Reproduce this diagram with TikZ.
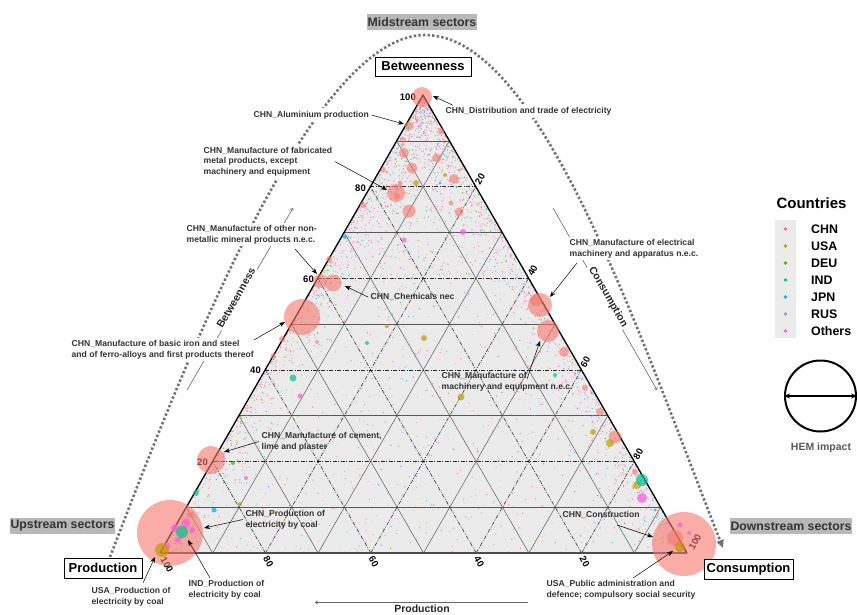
\documentclass[tikz,border=0pt]{standalone}
\usepackage{fontspec}
\setmainfont{Liberation Sans}
\usetikzlibrary{arrows.meta}
\definecolor{chn}{HTML}{F8766D}
\definecolor{usa}{HTML}{C49A00}
\definecolor{deu}{HTML}{53B400}
\definecolor{ind}{HTML}{00C094}
\definecolor{jpn}{HTML}{00B6EB}
\definecolor{rus}{HTML}{A58AFF}
\definecolor{oth}{HTML}{FB61D7}
\definecolor{tribg}{HTML}{EBEBEB}
\newcommand\lblfont{\bfseries\fontsize{8.6}{10.6}\selectfont}
\begin{document}
\begin{tikzpicture}[x=1pt,y=-1pt,
  lbl/.style={font=\lblfont, text=black!80, align=left, inner sep=2.5pt, anchor=west},
  lblw/.style={lbl, fill=white},
  ptr/.style={-{Stealth[length=6pt,width=4.5pt]}, black, line width=0.5pt},
  ticklbl/.style={font=\bfseries\fontsize{9.5}{10}\selectfont, inner sep=0pt},
  cornerbox/.style={draw=black, line width=0.9pt, fill=white, font=\bfseries\fontsize{13}{14}\selectfont, inner sep=0pt},
  sector/.style={fill=black!28, text=black!80, font=\bfseries\fontsize{12.3}{13}\selectfont, inner sep=0pt, minimum height=16pt},
  axttl/.style={font=\bfseries\fontsize{10.5}{11}\selectfont, text=black!85, inner sep=1.5pt},
  axarr/.style={draw=black!60, line width=0.6pt, -{To[length=3pt,width=4pt]}},
  gridsolid/.style={draw=black!65, line width=0.5pt},
  griddash/.style={draw=black!85, line width=0.55pt, dash pattern=on 4pt off 1.5pt on 1pt off 1.5pt},
  arcdots/.style={draw=black!55, line width=2.6pt, dash pattern=on 2.4pt off 2.2pt, -{Triangle[length=8pt,width=7pt]}},
  bubchn/.style={fill=chn, fill opacity=0.6},
]
\useasboundingbox (0,0) rectangle (857,614);
\fill[white] (0,0) rectangle (857,614);

% triangle
\coordinate (A) at (160,553);
\coordinate (B) at (687,553);
\coordinate (C) at (423,95);
\fill[tribg] (A) -- (B) -- (C) -- cycle;

% grid (b = betweenness, c = consumption, p = production)
\foreach \k in {10,30,50,70,90}{
  \pgfmathsetmacro\f{\k/100}
  \draw[gridsolid] ({160+263*\f},{553-458*\f}) -- ({687-264*\f},{553-458*\f});
  \draw[gridsolid] ({160+527*\f},553) -- ({423+264*\f},{95+458*\f});
  \draw[gridsolid] ({687-527*\f},553) -- ({423-263*\f},{95+458*\f});
}
\foreach \k in {20,40,60,80}{
  \pgfmathsetmacro\f{\k/100}
  \draw[griddash] ({160+263*\f},{553-458*\f}) -- ({687-264*\f},{553-458*\f});
  \draw[griddash] ({160+527*\f},553) -- ({423+264*\f},{95+458*\f});
  \draw[griddash] ({687-527*\f},553) -- ({423-263*\f},{95+458*\f});
}

% scatter of small points
\pgfmathsetseed{4711}
\pgfmathdeclarerandomlist{dotcols}{{oth}{oth}{oth}{oth}{oth}{oth}{chn}{chn}{chn}{usa}{jpn}{rus}{ind}{deu}}
\foreach \i in {1,...,900}{
  \pgfmathsetmacro\u{rnd}
  \pgfmathsetmacro\v{rnd}
  \pgfmathsetmacro\bb{(\u+\v>1)?(1-\u):\u}
  \pgfmathsetmacro\cc{(\u+\v>1)?(1-\v):\v}
  \pgfmathsetmacro\rr{0.35+0.45*rnd}
  \pgfmathrandomitem{\dcol}{dotcols}
  \fill[\dcol, fill opacity=0.75] ({160+263*\bb+527*\cc},{553-458*\bb}) circle[radius=\rr pt];
}
\foreach \i in {1,...,800}{
  \pgfmathsetmacro\cc{0.09*rnd*rnd}
  \pgfmathsetmacro\bb{rnd*(1-\cc)}
  \pgfmathsetmacro\rr{0.35+0.45*rnd}
  \pgfmathrandomitem{\dcol}{dotcols}
  \fill[\dcol, fill opacity=0.75] ({160+263*\bb+527*\cc},{553-458*\bb}) circle[radius=\rr pt];
}
\foreach \i in {1,...,800}{
  \pgfmathsetmacro\pp{0.09*rnd*rnd}
  \pgfmathsetmacro\bb{rnd*(1-\pp)}
  \pgfmathsetmacro\cc{1-\bb-\pp}
  \pgfmathsetmacro\rr{0.35+0.45*rnd}
  \pgfmathrandomitem{\dcol}{dotcols}
  \fill[\dcol, fill opacity=0.75] ({160+263*\bb+527*\cc},{553-458*\bb}) circle[radius=\rr pt];
}
\foreach \i in {1,...,600}{
  \pgfmathsetmacro\bb{1-0.4*rnd}
  \pgfmathsetmacro\cc{rnd*(1-\bb)}
  \pgfmathsetmacro\rr{0.35+0.45*rnd}
  \pgfmathrandomitem{\dcol}{dotcols}
  \fill[\dcol, fill opacity=0.75] ({160+263*\bb+527*\cc},{553-458*\bb}) circle[radius=\rr pt];
}

% triangle border
\draw[black!70, line width=1.3pt] (A) -- (B);
\draw[black, line width=1.3pt, line join=round] (A) -- (C) -- (B);

% tick labels
\node[ticklbl, anchor=east] (tb100) at (416,97) {100};
\node[ticklbl, anchor=east] (tb80) at (366,188) {80};
\node[ticklbl, anchor=east] (tb60) at (314,279) {60};
\node[ticklbl, anchor=east] (tb40) at (261,370) {40};
\node[ticklbl, anchor=east] (tb20) at (208,462) {20};
\node[ticklbl, rotate=60] (tc20) at (480,179) {20};
\node[ticklbl, rotate=60] (tc40) at (532.6,270.7) {40};
\node[ticklbl, rotate=60] (tc60) at (585.4,362.3) {60};
\node[ticklbl, rotate=60] (tc80) at (638.2,453.9) {80};
\node[ticklbl, rotate=60] (tc100) at (695,542) {100};
\node[ticklbl, rotate=-60] (tp100) at (167,565) {100};
\node[ticklbl, rotate=-60] (tp80) at (268.4,561.5) {80};
\node[ticklbl, rotate=-60] (tp60) at (373.8,561.5) {60};
\node[ticklbl, rotate=-60] (tp40) at (479.2,561.5) {40};
\node[ticklbl, rotate=-60] (tp20) at (584.6,561.5) {20};

% bubbles: CHN
\foreach \bx/\by/\br in {422/97/10, 409/126/4.5, 404/153/5, 412/168/5.5, 437/158/4.5,
  454/179/5, 396/193/9, 397/196/3, 409/211/6.5, 403/140/3, 400/183/2.5, 363/205/3,
  329/259/3, 320/281/7, 333/283/8.5, 302/317/18, 317/342/2, 282/339/3, 273/356/2.5,
  459/212/4.5, 540/305/12, 536/300/6, 548/331/11, 564/352/5, 211/460/14, 170/533/33,
  191/515/3.5, 684/544/32, 675/538/8, 600/412/4, 615/437/6.5, 635/472/3, 441/131/3,
  383/170/2.5, 451/203/2.5, 585/388/3}
  \fill[bubchn] (\bx,\by) circle[radius=\br pt];
% bubbles: other countries
\foreach \bx/\by/\br in {463/232/3, 300/396/2.5, 642/498/5, 175/528/4, 186/523/4.5,
  178/540/3, 167/546/3.5, 192/530/3, 689/533/2, 246/478/2, 404/240/2.5, 680/525/2.5}
  \fill[oth, fill opacity=0.75] (\bx,\by) circle[radius=\br pt];
\foreach \bx/\by/\br in {416/183/3, 445/175/2, 424/338/3, 387/326/2, 461/397/3.5,
  240/504/2, 593/432/3, 610/443/4, 637/485/4, 680/547/5, 162/550/7}
  \fill[usa, fill opacity=0.7] (\bx,\by) circle[radius=\br pt];
\foreach \bx/\by/\br in {293/378/3.5, 367/343/2, 182/532/6, 642/480/6, 196/493/3, 555/375/2}
  \fill[ind, fill opacity=0.7] (\bx,\by) circle[radius=\br pt];
\foreach \bx/\by/\br in {214/510/2.5, 345/237/2, 655/510/1.5, 440/183/1.5}
  \fill[jpn, fill opacity=0.75] (\bx,\by) circle[radius=\br pt];
\fill[deu, fill opacity=0.75] (233,463) circle[radius=2pt];

% dotted arc
\coordinate (arcL) at (110,557);
\coordinate (arcT) at (425,35);
\coordinate (arcR) at (723,548);
\draw[arcdots] (arcL) .. controls (180,375) and (310,35) .. (arcT)
  .. controls (540,35) and (638,332) .. (arcR);

% axis arrows and titles
\coordinate (btA) at (187,390);
\coordinate (btB) at (293,208);
\draw[axarr] (btA) -- (btB);
\node[axttl, rotate=60, fill=white] (btT) at (236,298) {Betweenness};
\coordinate (csA) at (553,208);
\coordinate (csB) at (657,390);
\draw[axarr] (csA) -- (csB);
\node[axttl, rotate=-60, fill=white] (csT) at (608,297) {Consumption};
\coordinate (prA) at (528,602.5);
\coordinate (prB) at (315,602.5);
\draw[axarr] (prA) -- (prB);
\node[axttl, inner sep=0pt] (prT) at (422,609) {Production};

% labels and pointers
\node[lblw] (lAl) at (251,115) {CHN\_Aluminium production};
\coordinate (tAl) at (404,124);
\draw[ptr] (lAl.east) -- (tAl);

\node[lblw] (lDist) at (443,111) {CHN\_Distribution and trade of electricity};
\coordinate (tDist) at (433,96);
\draw[ptr] ([xshift=10pt,yshift=-1pt]lDist.north west) -- (tDist);

\node[lblw] (lFab) at (201,161.5) {CHN\_Manufacture of fabricated\\metal products, except\\machinery and equipment};
\coordinate (tFab) at (387,190);
\draw[ptr] (lFab.east) -- (tFab);

\node[lblw] (lNon) at (184,234.5) {CHN\_Manufacture of other non-\\metallic mineral products n.e.c.};
\coordinate (sNon) at (295,249);
\coordinate (tNon) at (317,274);
\draw[ptr] (sNon) -- (tNon);

\node[lbl] (lChem) at (368,297) {CHN\_Chemicals nec};
\coordinate (tChem) at (345,286);
\draw[ptr] (lChem.west) -- (tChem);

\node[lblw] (lIron) at (69,349.5) {CHN\_Manufacture of basic iron and steel\\and of ferro-alloys and first products thereof};
\coordinate (sIron) at (254,340);
\coordinate (tIron) at (285,322);
\draw[ptr] (sIron) -- (tIron);

\node[lblw] (lElec) at (567,248.5) {CHN\_Manufacture of electrical\\machinery and apparatus n.e.c.};
\coordinate (sElec) at (577,263);
\coordinate (tElec) at (550,297);
\draw[ptr] (sElec) -- (tElec);

\node[lbl] (lMach) at (439,381.5) {CHN\_Manufacture of\\machinery and equipment n.e.c.};
\coordinate (sMach) at (527,379);
\coordinate (tMach) at (540,341);
\draw[ptr] (sMach) -- (tMach);

\node[lbl] (lCem) at (259,441.5) {CHN\_Manufacture of cement,\\lime and plaster};
\coordinate (tCem) at (224,452);
\draw[ptr] (lCem.west) -- (tCem);

\node[lbl] (lCoal) at (243,519.5) {CHN\_Production of\\electricity by coal};
\coordinate (tCoal) at (204,528);
\draw[ptr] (lCoal.west) -- (tCoal);

\node[lblw] (lInd) at (186,590) {IND\_Production of\\electricity by coal};
\coordinate (sInd) at (210,578);
\coordinate (tInd) at (188,540);
\draw[ptr] (sInd) -- (tInd);

\node[lblw] (lUsa) at (89,596.5) {USA\_Production of\\electricity by coal};
\coordinate (sUsa) at (143,583);
\coordinate (tUsa) at (155,557);
\draw[ptr] (sUsa) -- (tUsa);

\node[lbl] (lCon) at (560,515) {CHN\_Construction};
\coordinate (sCon) at (617,525);
\coordinate (tCon) at (653,537);
\draw[ptr] (sCon) -- (tCon);

\node[lblw] (lPub) at (544,589.5) {USA\_Public administration and\\defence; compulsory social security};
\coordinate (sPub) at (633,578);
\coordinate (tPub) at (673,551);
\draw[ptr] (sPub) -- (tPub);

% corner boxes
\node[cornerbox, minimum width=96pt, minimum height=19pt] (bxB) at (423,66.5) {Betweenness};
\node[cornerbox, minimum width=78pt, minimum height=20pt] (bxP) at (103,568) {Production};
\node[cornerbox, minimum width=89pt, minimum height=20pt] (bxC) at (748.5,569) {Consumption};

% sector labels
\node[sector, minimum width=110pt] (secM) at (422,22) {Midstream sectors};
\node[sector, minimum width=105pt] (secU) at (62.5,526) {Upstream sectors};
\node[sector, minimum width=122pt] (secD) at (791,526) {Downstream sectors};

% legend
\node[font=\bfseries\fontsize{15}{16}\selectfont, inner sep=0pt] (legT) at (811.5,203) {Countries};
\fill[tribg] (775,220) rectangle (796,338);
\foreach \ly/\lc/\ln [count=\j] in {229/chn/CHN, 246/usa/USA, 263/deu/DEU, 280/ind/IND, 297/jpn/JPN, 314/rus/RUS, 331/oth/Others}{
  \fill[\lc] (785.5,\ly) circle[radius=1.8pt];
  \node[font=\bfseries\fontsize{12.4}{13}\selectfont, anchor=west, inner sep=0pt] (leg\j) at (811,\ly) {\ln};
}
\node[draw=black, line width=2pt, circle, minimum size=71pt, inner sep=0pt] (hem) at (820.5,396) {};
\draw[{Stealth[length=6pt,width=5pt]}-{Stealth[length=6pt,width=5pt]}, line width=1.3pt] (hem.west) -- (hem.east);
\node[font=\bfseries\fontsize{10.5}{11}\selectfont, text=black!65, inner sep=0pt] (hemT) at (821,448) {HEM impact};
\end{tikzpicture}
\end{document}
